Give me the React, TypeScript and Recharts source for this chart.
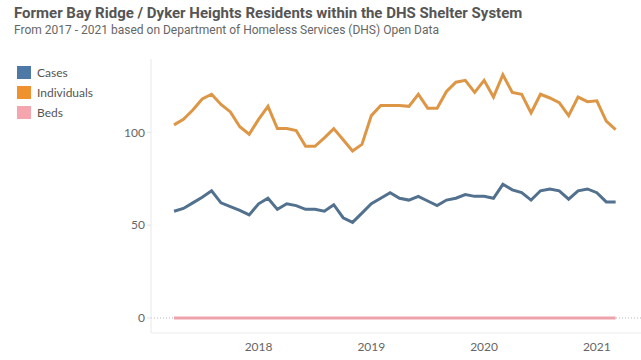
import { LineChart, Line, XAxis, YAxis, ReferenceLine } from "recharts";

const months = [
  "2017-04", "2017-05", "2017-06", "2017-07", "2017-08", "2017-09", "2017-10", "2017-11", "2017-12",
  "2018-01", "2018-02", "2018-03", "2018-04", "2018-05", "2018-06", "2018-07", "2018-08", "2018-09",
  "2018-10", "2018-11", "2018-12", "2019-01", "2019-02", "2019-03", "2019-04", "2019-05", "2019-06",
  "2019-07", "2019-08", "2019-09", "2019-10", "2019-11", "2019-12", "2020-01", "2020-02", "2020-03",
  "2020-04", "2020-05", "2020-06", "2020-07", "2020-08", "2020-09", "2020-10", "2020-11", "2020-12",
  "2021-01", "2021-02", "2021-03",
];

const cases = [
  57.5, 59, 62, 65, 68.5, 62, 60, 58, 55.5, 61.5, 64.5, 58.5, 61.5, 60.5, 58.5, 58.5,
  57.5, 61, 54, 51.5, 56.5, 61.5, 64.5, 67.5, 64.5, 63.5, 65.5, 63, 60.5, 63.5, 64.5, 66.5,
  65.5, 65.5, 64.5, 72, 69, 67.5, 63.5, 68.5, 69.5, 68.5, 64, 68.5, 69.5, 67.5, 62.5, 62.5,
];

const individuals = [
  104, 107, 112, 118, 120.5, 115, 111, 103, 99, 107, 114, 102, 102, 101, 92.5, 92.5,
  97, 102, 96, 90, 93.5, 109, 114.5, 114.5, 114.5, 114, 120.5, 113, 113, 122, 127, 128,
  121.5, 128, 119, 131, 121.5, 120.5, 110.5, 120.5, 118.5, 116, 109, 119, 116.5, 117, 106, 101.5,
];

const beds = [
  0, 0, 0, 0, 0, 0, 0, 0, 0, 0, 0, 0, 0, 0, 0, 0,
  0, 0, 0, 0, 0, 0, 0, 0, 0, 0, 0, 0, 0, 0, 0, 0,
  0, 0, 0, 0, 0, 0, 0, 0, 0, 0, 0, 0, 0, 0, 0, 0,
];

const yTicks = [0, 50, 100];

const data = months.map((m, i) => ({
  idx: i,
  month: m,
  Cases: cases[i],
  Individuals: individuals[i],
  Beds: beds[i],
}));

// one tick per January
const yearTicks = months
  .map((m, i) => (m.endsWith("-01") ? i : -1))
  .filter((i) => i >= 0);

const series = [
  { key: "Cases", color: "#52718f", swatch: "#4e79a7" },
  { key: "Individuals", color: "#dd9646", swatch: "#f0912f" },
  { key: "Beds", color: "#eea3ab", swatch: "#f4a5ae" },
];

const tickFont = { fontFamily: "Lato", fontSize: 12, fill: "#666" };

export default function App() {
  return (
    <div
      style={{
        position: "absolute",
        left: 0,
        top: 0,
        width: 641,
        height: 360,
        background: "#fff",
      }}
    >
      <div
        style={{
          position: "absolute",
          left: 14,
          top: 4,
          fontFamily: "Roboto",
          fontWeight: 700,
          fontSize: 15,
          color: "#555",
          whiteSpace: "nowrap",
        }}
      >
        Former Bay Ridge / Dyker Heights Residents within the DHS Shelter System
      </div>
      <div
        style={{
          position: "absolute",
          left: 14,
          top: 23,
          fontFamily: "Roboto",
          fontSize: 12,
          color: "#666",
          whiteSpace: "nowrap",
        }}
      >
        From 2017 - 2021 based on Department of Homeless Services (DHS) Open Data
      </div>
      <div
        style={{
          position: "absolute",
          left: 17,
          top: 62,
          fontFamily: "Lato",
          fontSize: 12,
          color: "#555",
        }}
      >
        {series.map((s) => (
          <div
            key={s.key}
            style={{ display: "flex", alignItems: "center", height: 20 }}
          >
            <span
              style={{
                width: 14,
                height: 13,
                background: s.swatch,
                marginRight: 6,
                display: "inline-block",
              }}
            />
            {s.key}
          </div>
        ))}
      </div>
      <LineChart
        width={641}
        height={360}
        data={data}
        margin={{ top: 59, right: 0, bottom: 0, left: 0 }}
      >
        <XAxis
          dataKey="idx"
          type="number"
          domain={[-2.45, 49.7]}
          ticks={yearTicks}
          tickFormatter={(v) => months[v].slice(0, 4)}
          height={27}
          tick={tickFont}
          tickSize={4}
          tickMargin={5}
          tickLine={false}
          axisLine={{ stroke: "#ececec" }}
          allowDataOverflow
        />
        <YAxis
          type="number"
          domain={[-8.1, 139.5]}
          ticks={yTicks}
          width={151}
          tick={tickFont}
          tickSize={4}
          tickMargin={2}
          tickLine={{ stroke: "#e2e2e2" }}
          axisLine={{ stroke: "#e8e8e8" }}
          allowDataOverflow
        />
        <ReferenceLine y={0} stroke="#b8b8b8" strokeDasharray="1 2" />
        {series.map((s) => (
          <Line
            key={s.key}
            dataKey={s.key}
            stroke={s.color}
            strokeWidth={3}
            dot={false}
            activeDot={false}
            isAnimationActive={false}
          />
        ))}
      </LineChart>
    </div>
  );
}
